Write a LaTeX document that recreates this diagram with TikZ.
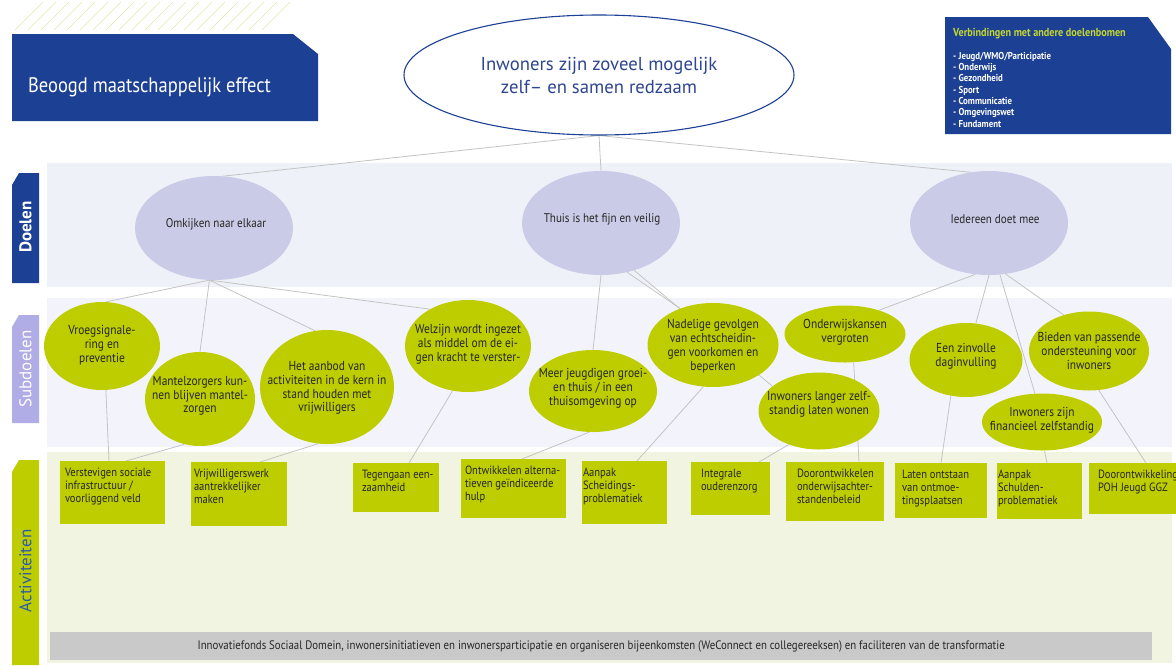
\documentclass[tikz,border=0pt]{standalone}
\usepackage{fontspec}
\setmainfont{PT Sans}
\newfontfamily\cnd[FakeStretch=0.88]{PT Sans}
\usetikzlibrary{shapes.geometric}
\definecolor{dblue}{HTML}{1C4094}
\definecolor{toptext}{HTML}{2E4590}
\definecolor{lav}{HTML}{CACBE6}
\definecolor{bandA}{HTML}{EEF1F8}
\definecolor{bandB}{HTML}{F3F4FB}
\definecolor{bandC}{HTML}{F1F4E0}
\definecolor{grn}{HTML}{BECD00}
\definecolor{tablav}{HTML}{B0ACE6}
\definecolor{greybar}{HTML}{C9C9C9}
\definecolor{linec}{HTML}{C4C4C4}
\definecolor{hatchc}{HTML}{E3E9AE}
\definecolor{vtitle}{HTML}{C3D630}
\definecolor{actblue}{HTML}{2D5BAA}
\definecolor{txt}{HTML}{262626}
\pgfdeclarelayer{back}
\pgfdeclarelayer{mid}
\pgfsetlayers{back,mid,main}
\newcommand\actc[4]{\parbox[c][#3pt][t]{#2pt}{\vspace*{7pt}\raggedright\leftskip=#1pt\relax #4\par}}
\begin{document}
\begin{tikzpicture}[x=1pt,y=-1pt,
  doel/.style={ellipse, fill=lav, inner sep=0pt},
  doeltext/.style={inner sep=0pt, text=txt, font=\cnd\fontsize{12.6}{14}\selectfont},
  sub/.style={ellipse, fill=grn, inner sep=0pt},
  lbl/.style={align=center, inner sep=0pt, text=txt, font=\cnd\fontsize{13}{13.8}\selectfont},
  act/.style={rectangle, fill=grn, inner sep=0pt, outer sep=0pt, anchor=north west, text=txt, font=\cnd\fontsize{12}{12.8}\selectfont},
  conn/.style={draw=linec, line width=0.8pt},
  tabtext/.style={rotate=90, inner sep=0pt, font=\fontsize{17}{20}\selectfont}
]
\useasboundingbox (0,0) rectangle (1176,665);
\begin{pgfonlayer}{back}
  \fill[white] (0,0) rectangle (1176,665);
  \fill[bandA] (47,163) rectangle (1172,287);
  \fill[bandB] (47,298) rectangle (1172,447);
  \fill[bandC] (47,452) rectangle (1172,663);
  \foreach \i in {0,...,19} \draw[hatchc, line width=0.6pt] (15+13*\i,30) -- (43+13*\i,2);
\end{pgfonlayer}

% header boxes
\fill[dblue] (12,34) -- (293,34) -- (318,54) -- (318,121) -- (12,121) -- cycle;
\node[anchor=west, text=white, inner sep=0pt, font=\cnd\fontsize{21}{24}\selectfont] (beoogd) at (28,87) {Beoogd maatschappelijk effect};
\fill[dblue] (945,17) -- (1148,17) -- (1171,49) -- (1171,134) -- (945,134) -- cycle;
\node[anchor=west, text=vtitle, inner sep=0pt, font=\cnd\bfseries\fontsize{11.6}{13}\selectfont] (vtitle) at (953,34) {Verbindingen met andere doelenbomen};
\node[anchor=north west, align=left, text=white, inner sep=0pt, font=\cnd\bfseries\fontsize{10}{11.3}\selectfont] (vlist) at (953,52) {- Jeugd/WMO/Participatie\\- Onderwijs\\- Gezondheid\\- Sport\\- Communicatie\\- Omgevingswet\\- Fundament};

% top ellipse
\node[ellipse, draw=dblue, line width=1.1pt, fill=white, minimum width=390pt, minimum height=120pt, inner sep=0pt, align=center, text=toptext, font=\fontsize{18.7}{23}\selectfont] (top) at (599,75) {Inwoners zijn zoveel mogelijk\\zelf\textendash{} en samen redzaam};

% tabs
\fill[dblue] (12,185) -- (19,173) -- (39,173) -- (39,283) -- (12,283) -- cycle;
\node[tabtext, text=white, font=\bfseries\fontsize{17}{20}\selectfont] (tabd) at (25.5,227) {Doelen};
\fill[tablav] (12,327) -- (19,315) -- (39,315) -- (39,423) -- (12,423) -- cycle;
\node[tabtext, text=white] (tabs) at (25.5,369) {Subdoelen};
\fill[grn] (12,472) -- (19,460) -- (39,460) -- (39,665) -- (12,665) -- cycle;
\node[tabtext, text=actblue] (taba) at (25.5,571) {Activiteiten};

% doelen
\node[doel, minimum width=158pt, minimum height=104pt] (omk) at (214,228) {};
\node[doeltext] (omk-t) at (216,224) {Omkijken naar elkaar};
\node[doel, minimum width=158pt, minimum height=104pt] (thuis) at (601,223) {};
\node[doeltext] (thuis-t) at (602,219) {Thuis is het fijn en veilig};
\node[doel, minimum width=158pt, minimum height=104pt] (ied) at (989,223) {};
\node[doeltext] (ied-t) at (995,219) {Iedereen doet mee};

% subdoelen
\node[sub, minimum width=116pt, minimum height=88pt] (vroeg) at (102,346) {};
\node[sub, minimum width=110pt, minimum height=94pt] (mantel) at (200,399) {};
\node[sub, minimum width=134pt, minimum height=114pt] (aanbod) at (327,387) {};
\node[sub, minimum width=126pt, minimum height=92pt] (welzijn) at (468,346) {};
\node[sub, minimum width=128pt, minimum height=82pt] (jeugd) at (593,391) {};
\node[sub, minimum width=131pt, minimum height=84pt] (nadelig) at (713,345) {};
\node[sub, minimum width=121pt, minimum height=57pt] (onderwijs) at (845,334) {};
\node[sub, minimum width=121pt, minimum height=77pt] (langer) at (819,411) {};
\node[sub, minimum width=113pt, minimum height=74pt] (zinvol) at (966,360) {};
\node[sub, minimum width=120pt, minimum height=79pt] (bieden) at (1089,351) {};
\node[sub, minimum width=120pt, minimum height=57pt] (financieel) at (1042,422) {};

\node[lbl] (vroeg-t) at (102,345) {Vroegsignale-\\ring en\\preventie};
\node[lbl] (mantel-t) at (200,396) {Mantelzorgers kun-\\nen blijven mantel-\\zorgen};
\node[lbl] (aanbod-t) at (327,388) {Het aanbod van\\activiteiten in de kern in\\stand houden met\\vrijwilligers};
\node[lbl] (welzijn-t) at (468,344) {Welzijn wordt ingezet\\als middel om de ei-\\gen kracht te verster-};
\node[lbl] (jeugd-t) at (593,388) {Meer jeugdigen groei-\\en thuis / in een\\thuisomgeving op};
\node[lbl] (nadelig-t) at (713,346) {Nadelige gevolgen\\van echtscheidin-\\gen voorkomen en\\beperken};
\node[lbl] (onderwijs-t) at (845,332) {Onderwijskansen\\vergroten};
\node[lbl] (langer-t) at (819,404) {Inwoners langer zelf-\\standig laten wonen};
\node[lbl] (zinvol-t) at (966,356) {Een zinvolle\\daginvulling};
\node[lbl] (bieden-t) at (1089,351) {Bieden van passende\\ondersteuning voor\\inwoners};
\node[lbl] (financieel-t) at (1042,420) {Inwoners zijn\\financieel zelfstandig};

% activiteiten
\node[act] (a1) at (60,461) {\actc{5}{105}{63}{Verstevigen sociale\\infrastructuur /\\voorliggend veld}};
\node[act] (a2) at (191,462) {\actc{3}{96}{64}{Vrijwilligerswerk\\aantrekkelijker\\maken}};
\node[act] (a3) at (353,463) {\actc{9}{86}{49}{Tegengaan een-\\zaamheid}};
\node[act] (a4) at (461,459) {\actc{4}{105}{59}{Ontwikkelen alterna-\\tieven geïndiceerde\\hulp}};
\node[act] (a5) at (582,461) {\actc{1}{85}{63}{Aanpak\\Scheidings-\\problematiek}};
\node[act] (a6) at (691,462) {\actc{10}{79}{53}{Integrale\\ouderenzorg}};
\node[act] (a7) at (786,462) {\actc{11}{98}{59}{Doorontwikkelen\\onderwijsachter-\\standenbeleid}};
\node[act] (a8) at (895,463) {\actc{7}{92}{55}{Laten ontstaan\\van ontmoe-\\tingsplaatsen}};
\node[act] (a9) at (997,463) {\actc{1}{85}{56}{Aanpak\\Schulden-\\problematiek}};
\node[act] (a10) at (1089,463) {\actc{9}{87}{51}{Doorontwikkeling\\POH Jeugd GGZ}};

% bottom bar
\node[fill=greybar, anchor=north west, inner sep=0pt, minimum width=1102pt, minimum height=28pt, text=txt, font=\cnd\fontsize{12.3}{14}\selectfont] (bar) at (50,632) {Innovatiefonds Sociaal Domein, inwonersinitiatieven en inwonersparticipatie en organiseren bijeenkomsten (WeConnect en collegereeksen) en faciliteren van de transformatie};

% connectors
\begin{pgfonlayer}{mid}
  \draw[conn] (top.south) -- (omk.80);
  \draw[conn] (top.south) -- (thuis.north);
  \draw[conn] (top.south) -- (ied.110);
  \draw[conn] (omk.265) -- (vroeg.85);
  \draw[conn] (omk.265) -- (mantel.north);
  \draw[conn] (omk.265) -- (aanbod.102);
  \draw[conn] (omk.265) -- (welzijn.136);
  \draw[conn] (thuis.south) -- (jeugd.north);
  \draw[conn] (thuis.298) -- (nadelig.132);
  \draw[conn] (thuis.305) -- (langer.152);
  \draw[conn] (ied.255) -- (onderwijs.35);
  \draw[conn] (ied.270) -- (zinvol.75);
  \draw[conn] (ied.282) -- (financieel.104);
  \draw[conn] (ied.288) -- (bieden.125);
  \draw[conn] (vroeg.275) -- ([xshift=49pt]a1.north west);
  \draw[conn] (mantel.251) -- ([xshift=66pt]a1.north west);
  \draw[conn] (aanbod.261) -- ([xshift=69pt]a2.north west);
  \draw[conn] (welzijn.251) -- ([xshift=56pt]a3.north west);
  \draw[conn] (jeugd.265) -- ([xshift=61pt]a4.north west);
  \draw[conn] (nadelig.257) -- ([xshift=55pt]a5.north west);
  \draw[conn] (langer.228) -- ([xshift=68pt]a6.north west);
  \draw[conn] (onderwijs.287) -- ([xshift=73pt]a7.north west);
  \draw[conn] (zinvol.247) -- ([xshift=46pt]a8.north west);
  \draw[conn] (financieel.275) -- ([xshift=50pt]a9.north west);
  \draw[conn] (bieden.284) -- ([xshift=57pt]a10.north west);
\end{pgfonlayer}
\end{tikzpicture}
\end{document}
